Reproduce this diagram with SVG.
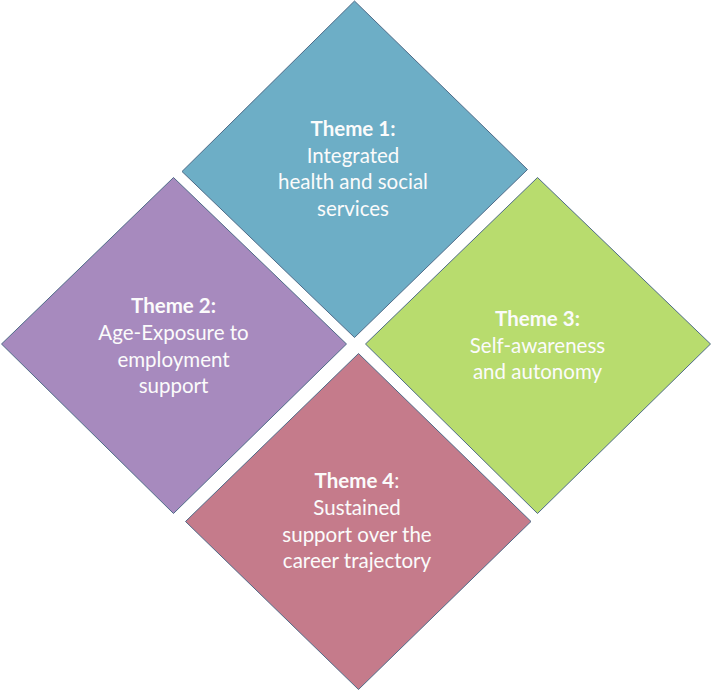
<svg xmlns="http://www.w3.org/2000/svg" width="712" height="691" viewBox="0 0 712 691">
<style>
.d{stroke:#4f6b88;stroke-width:1}
.t{font-family:Lato,"Open Sans","Liberation Sans",sans-serif;font-size:20.5px;fill:#fbfbfb;text-anchor:middle}
.b{font-weight:bold}
</style>
<rect width="712" height="691" fill="#ffffff"/>
<g id="theme1">
<polygon class="d" fill="#6daec6" points="354.5,1 527.5,169.5 354.5,337.5 182,171.5"/>
<text class="t" x="353" y="136"><tspan class="b">Theme 1:</tspan><tspan x="353" dy="26.7">Integrated</tspan><tspan x="353" dy="26.7">health and social</tspan><tspan x="353" dy="26.7">services</tspan></text>
</g>
<g id="theme2">
<polygon class="d" fill="#a78abe" points="173.5,177.5 346.5,344 173.5,513.5 1.5,344"/>
<text class="t" x="173.5" y="313.3"><tspan class="b">Theme 2:</tspan><tspan x="173.5" dy="26.7">Age-Exposure to</tspan><tspan x="173.5" dy="26.7">employment</tspan><tspan x="173.5" dy="26.7">support</tspan></text>
</g>
<g id="theme3">
<polygon class="d" fill="#b8dc6e" points="537.5,177.5 710.5,344 537.5,513.5 365.5,344"/>
<text class="t" x="537.5" y="326"><tspan class="b">Theme 3:</tspan><tspan x="537.5" dy="26.7">Self-awareness</tspan><tspan x="537.5" dy="26.7">and autonomy</tspan></text>
</g>
<g id="theme4">
<polygon class="d" fill="#c57b8b" points="358.5,353.5 531,521.5 358.5,689.5 185.5,521.5"/>
<text class="t" x="357" y="488.3"><tspan class="b">Theme 4</tspan><tspan>:</tspan><tspan x="357" dy="26.7">Sustained</tspan><tspan x="357" dy="26.7">support over the</tspan><tspan x="357" dy="26.7">career trajectory</tspan></text>
</g>
<g id="connectors"></g>
</svg>
